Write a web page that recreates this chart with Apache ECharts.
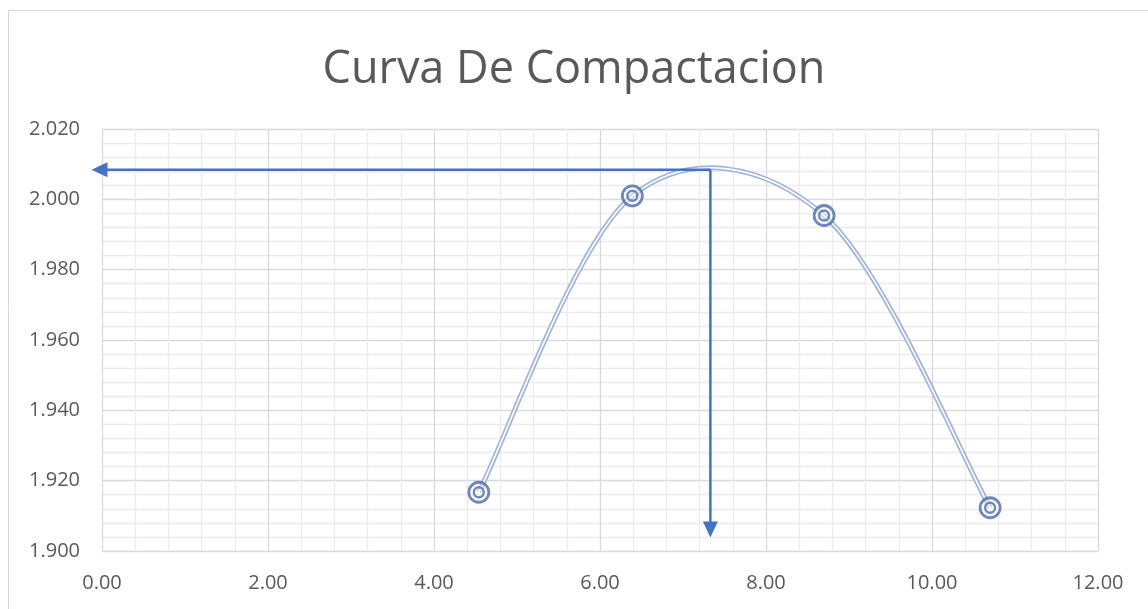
<!DOCTYPE html>
<html><head><meta charset="utf-8">
<script src="https://cdn.jsdelivr.net/npm/echarts@6/dist/echarts.min.js"></script>
<style>html,body{margin:0;padding:0;background:#fff}#c{width:1148px;height:609px}</style>
</head><body><div id="c"></div>
<script>
const humedad = [4.54, 6.39, 8.70, 10.70];
const densidad = [1.9167, 2.0010, 1.9954, 1.9123];
const optimoX = 7.33;
const optimoY = 2.0084;
const arrowLeftX = -0.03;
const arrowBottomY = 1.9061;
const titleText = 'Curva De Compactacion';

const pts = humedad.map((x, i) => [x, densidad[i]]);
const chart = echarts.init(document.getElementById('c'));
const lineColor = '#9fb4df';
const markColor = '#4b6cad';
const arrowColor = '#4472c4';

function smoothPath(api) {
  const P = pts.map(p => api.coord(p));
  const n = P.length;
  let d = 'M' + P[0][0] + ' ' + P[0][1];
  for (let i = 0; i < n - 1; i++) {
    const p0 = P[Math.max(i - 1, 0)], p1 = P[i], p2 = P[i + 1], p3 = P[Math.min(i + 2, n - 1)];
    const c1 = [p1[0] + (p2[0] - p0[0]) / 6, p1[1] + (p2[1] - p0[1]) / 6];
    const c2 = [p2[0] - (p3[0] - p1[0]) / 6, p2[1] - (p3[1] - p1[1]) / 6];
    d += ' C' + c1[0] + ' ' + c1[1] + ' ' + c2[0] + ' ' + c2[1] + ' ' + p2[0] + ' ' + p2[1];
  }
  return d;
}

chart.setOption({
  animation: false,
  title: { text: titleText, left: 'center', top: 43, textStyle: { fontFamily: 'Open Sans', fontSize: 45, fontWeight: 'normal', color: '#595959' } },
  graphic: [{ type: 'rect', shape: { x: 8.5, y: 10.5, width: 1160, height: 620 }, style: { fill: 'none', stroke: '#d9d9d9', lineWidth: 1 }, silent: true }],
  grid: { left: 102, right: 50, top: 129, bottom: 58 },
  xAxis: {
    type: 'value', min: 0, max: 12, interval: 2,
    axisLine: { show: false }, axisTick: { show: false },
    axisLabel: { formatter: v => v.toFixed(2), color: '#595959', fontSize: 20, fontFamily: 'Open Sans', margin: 22 },
    splitLine: { show: true, lineStyle: { color: '#d9d9d9', width: 1.3 } },
    minorTick: { show: false, splitNumber: 5 },
    minorSplitLine: { show: true, lineStyle: { color: '#ececec', width: 1.3 } }
  },
  yAxis: {
    type: 'value', min: 1.9, max: 2.02, interval: 0.02,
    axisLine: { show: false }, axisTick: { show: false },
    axisLabel: { formatter: v => v.toFixed(3), color: '#595959', fontSize: 20, fontFamily: 'Open Sans', margin: 22 },
    splitLine: { show: true, lineStyle: { color: '#d9d9d9', width: 1.3 } },
    minorTick: { show: false, splitNumber: 5 },
    minorSplitLine: { show: true, lineStyle: { color: '#ececec', width: 1.3 } }
  },
  series: [
    { type: 'custom', data: pts, encode: { x: 0, y: 1 }, z: 2,
      renderItem: function (params, api) {
        if (params.dataIndex !== 0) return null;
        const d = smoothPath(api);
        return { type: 'group', children: [
          { type: 'path', shape: { pathData: d }, style: { fill: 'none', stroke: lineColor, lineWidth: 5 } },
          { type: 'path', shape: { pathData: d }, style: { fill: 'none', stroke: '#ffffff', lineWidth: 1.6 } }
        ] };
      }
    },
    { type: 'scatter', data: pts, symbol: 'circle', symbolSize: 20, itemStyle: { color: 'rgba(255,255,255,0.55)', borderColor: markColor, borderWidth: 2.8 }, z: 4 },
    { type: 'scatter', data: pts, symbol: 'circle', symbolSize: 10, itemStyle: { color: 'rgba(0,0,0,0)', borderColor: markColor, borderWidth: 2.4 }, z: 5 },
    { type: 'line', clip: false, z: 6, showSymbol: true, lineStyle: { color: arrowColor, width: 2.5 }, itemStyle: { color: arrowColor },
      data: [{ value: [optimoX, optimoY], symbol: 'none' }, { value: [arrowLeftX, optimoY], symbol: 'triangle', symbolSize: [15, 16], symbolRotate: 90 }] },
    { type: 'line', clip: false, z: 6, showSymbol: true, lineStyle: { color: arrowColor, width: 2.5 }, itemStyle: { color: arrowColor },
      data: [{ value: [optimoX, optimoY], symbol: 'none' }, { value: [optimoX, arrowBottomY], symbol: 'triangle', symbolSize: [15, 16], symbolRotate: 180 }] }
  ]
});
</script></body></html>
